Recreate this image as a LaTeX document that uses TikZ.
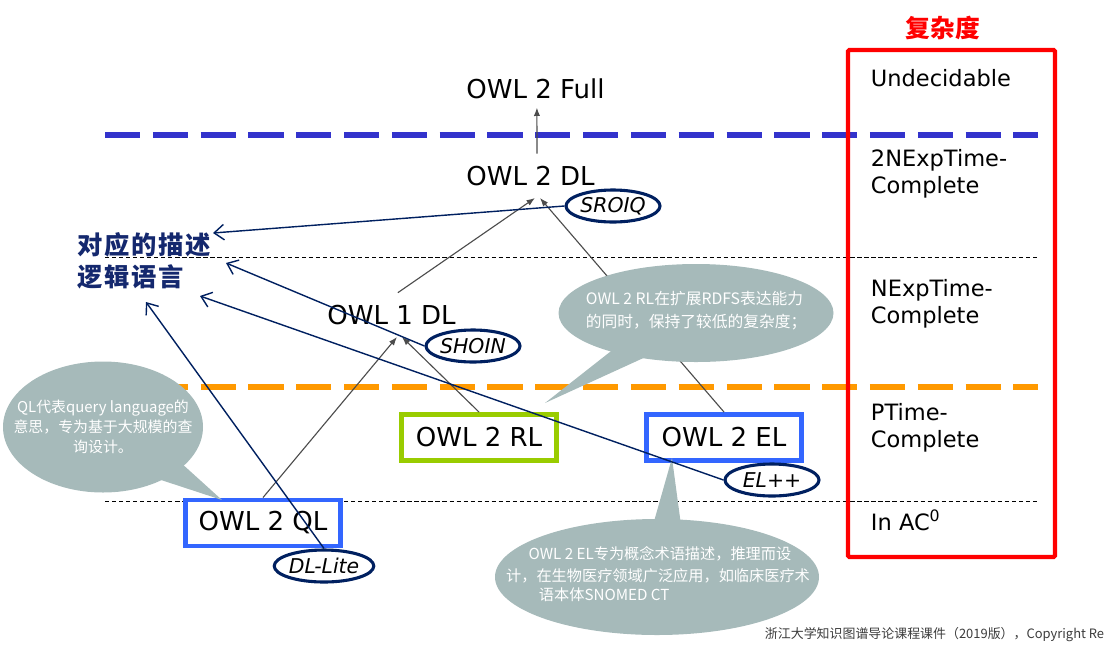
\documentclass[tikz,border=0pt]{standalone}
\usepackage{fontspec}
\setmainfont{DejaVu Sans}
\newfontfamily\cjk{Noto Sans CJK SC}
\usetikzlibrary{arrows.meta, shapes.geometric, positioning}
\definecolor{navyline}{RGB}{0, 32, 96}
\definecolor{navytext}{RGB}{20, 40, 110}
\definecolor{dashblue}{RGB}{51, 51, 204}
\definecolor{dashorange}{RGB}{255, 153, 0}
\definecolor{boxblue}{RGB}{51, 102, 255}
\definecolor{boxgreen}{RGB}{153, 204, 0}
\definecolor{bubblegray}{RGB}{166, 186, 186}
\definecolor{footgray}{RGB}{60, 60, 60}

\begin{document}
\begin{tikzpicture}[x=0.025cm, y=-0.025cm,
  owlbox/.style={draw=#1, line width=3.5pt, fill=white, minimum width=3.875cm, minimum height=1.15cm, inner sep=0pt, font=\fontsize{18.5}{22}\selectfont},
  owllabel/.style={anchor=base, font=\fontsize{18.5}{22}\selectfont},
  dlell/.style={ellipse, draw=navyline, line width=2.2pt, fill=white, minimum width=2.35cm, minimum height=0.8cm, inner sep=0pt, font=\fontsize{14.5}{16}\selectfont\itshape},
  level/.style={anchor=base west, align=left, font=\fontsize{16}{19.2}\selectfont},
  sep/.style={dash pattern=on 3pt off 2pt, line width=0.6pt},
  bigsep/.style={draw=#1, line width=4.5pt, dash pattern=on 25pt off 9pt},
  garr/.style={-{Latex[length=6pt, width=4.5pt]}, line width=0.8pt, black!70},
  narr/.style={-{Straight Barb[length=7pt, width=11pt]}, line width=1pt, navyline},
  bubble/.style={fill=bubblegray},
  bubtext/.style={text=white, font=\cjk\fontsize{10.8}{14.8}\selectfont},
  dltitle/.style={anchor=west, text=navytext, font=\cjk\bfseries\fontsize{18}{22}\selectfont\addfontfeature{LetterSpace=6}},
]
  \useasboundingbox (0,0) rectangle (1105,646);
  \clip (0,0) rectangle (1105,646);

  % Complexity levels
  \draw[bigsep=dashblue] (105,135) -- (1038,135);
  \draw[sep] (105,257) -- (1038,257);
  \draw[bigsep=dashorange] (105,387) -- (1038,387);
  \draw[sep] (105,501) -- (1038,501);

  \node[text=red, font=\cjk\bfseries\fontsize{17.6}{20}\selectfont] (cplx) at (943,28) {复杂度};
  \draw[red, line width=3pt, rounded corners=1pt] (848,50) rectangle (1055,557);
  \node[level] (undec) at (866,86) {Undecidable};
  \node[level] (nexpb) at (866,193) {2NExpTime-\\Complete};
  \node[level] (nexp) at (866,323) {NExpTime-\\Complete};
  \node[level] (ptime) at (866,447) {PTime-\\Complete};
  \node[level] (ac) at (866,530) {In AC\textsuperscript{0}};

  % Profiles
  \node[owllabel] (full) at (535.5,98) {OWL 2 Full};
  \node[owllabel] (dl) at (530.5,185) {OWL 2 DL};
  \node[owllabel] (dlone) at (391.5,324) {OWL 1 DL};
  \node[owlbox=boxblue] (ql) at (263,523) {OWL 2 QL};
  \node[owlbox=boxgreen] (rl) at (479,437.5) {OWL 2 RL};
  \node[owlbox=boxblue] (el) at (724,437.5) {OWL 2 EL};

  \coordinate (dlinA) at (535,198);
  \coordinate (dlinB) at (540,198);
  \coordinate (dloneinA) at (397,337);
  \coordinate (dloneinB) at (402,337);

  \draw[garr] ([xshift=4.6pt, yshift=5pt]dl.north) -- ([xshift=1pt, yshift=-3pt]full.south);
  \draw[garr] ([xshift=4.5pt, yshift=5pt]dlone.north) -- (dlinA);
  \draw[garr] (el.north) -- (dlinB);
  \draw[garr] (ql.north) -- (dloneinA);
  \draw[garr] (rl.north) -- (dloneinB);

  % Callouts
  \fill[bubble] (103,427) ellipse [x radius=100, y radius=65.5];
  \fill[bubble] (180,462) -- (222,500) -- (155,478) -- cycle;
  \node[bubtext, align=center, font=\cjk\fontsize{10.6}{14.2}\selectfont] (qltext) at (103,427)
    {QL代表query language的\\意思，专为基于大规模的查\\询设计。};

  \fill[bubble] (696,313) ellipse [x radius=137.5, y radius=49];
  \fill[bubble] (615,348) -- (545,403) -- (650,355) -- cycle;
  \node[bubtext, align=left, anchor=west, font=\cjk\fontsize{11.2}{16.4}\selectfont] (rltext) at (581,310.5)
    {OWL 2 RL在扩展RDFS表达能力\\的同时，保持了较低的复杂度；};

  \fill[bubble] (657,577) ellipse [x radius=162, y radius=58];
  \fill[bubble] (653,525) -- (672,458) -- (681,525) -- cycle;
  \node[bubtext] (eltexta) at (660,554) {OWL 2 EL专为概念术语描述，推理而设};
  \node[bubtext] (eltextb) at (658,576) {计，在生物医疗领域广泛应用，如临床医疗术};
  \node[bubtext, anchor=west] (eltextc) at (534,595) {语本体SNOMED CT};

  % Description logics
  \node[dltitle] (descA) at (73,245) {对应的描述};
  \node[dltitle] (descB) at (73,277) {逻辑语言};

  \node[dlell] (sroiq) at (613,206) {SROIQ};
  \node[dlell] (shoin) at (473,346) {SHOIN};
  \node[dlell] (dllite) at (324,566) {DL-Lite};
  \node[dlell] (elpp) at (772,480) {EL++};

  \coordinate (tipA) at (213,233);
  \coordinate (tipB) at (226,263);
  \coordinate (tipC) at (200,296);
  \coordinate (tipD) at (146,302);

  \draw[narr] (sroiq.west) -- (tipA);
  \draw[narr] (shoin.west) -- (tipB);
  \draw[narr] (elpp.west) -- (tipC);
  \draw[narr] (dllite.north) -- (tipD);

  \node[anchor=base west, text=footgray, font=\cjk\fontsize{9.2}{11}\selectfont] (foot) at (760,638)
    {浙江大学知识图谱导论课程课件（2019版），Copyright Re};
\end{tikzpicture}
\end{document}
